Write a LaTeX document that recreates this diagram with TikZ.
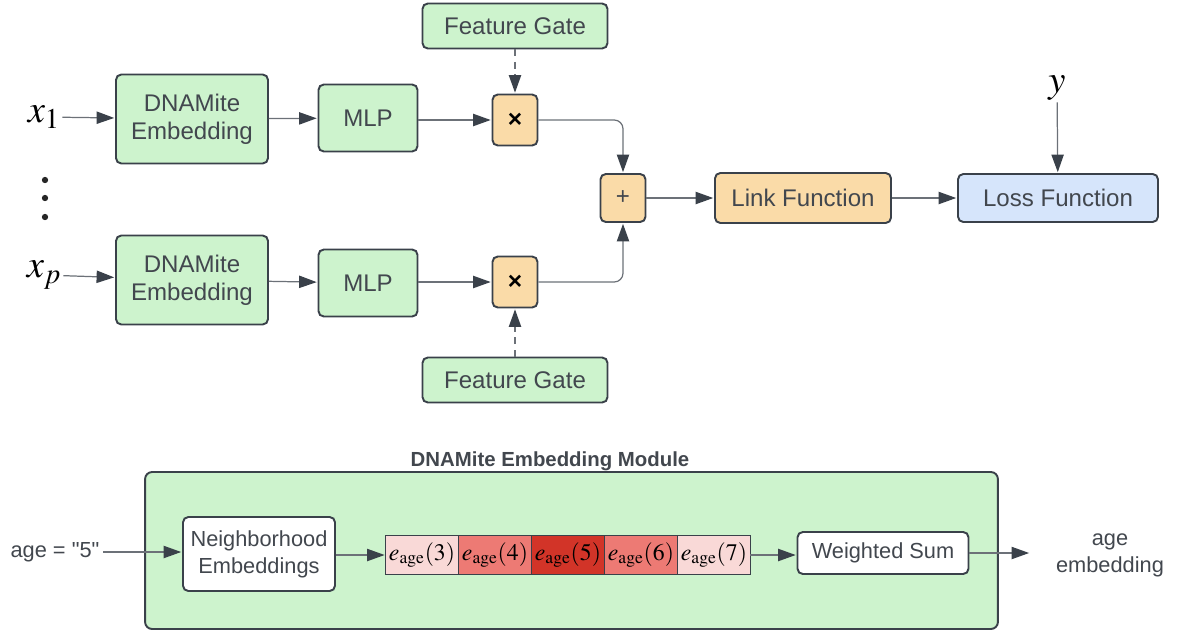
\documentclass[tikz,border=0pt]{standalone}
\usepackage{mathptmx}
\usepackage[no-math]{fontspec}
\setmainfont{Liberation Sans}
\newfontfamily\plainsans{Liberation Sans}
\usetikzlibrary{arrows.meta, positioning}
\definecolor{boxgreen}{RGB}{205, 243, 205}
\definecolor{boxorange}{RGB}{250, 219, 168}
\definecolor{boxblue}{RGB}{214, 229, 251}
\definecolor{edgegray}{RGB}{58, 65, 74}
\definecolor{linegray}{RGB}{108, 113, 120}
\definecolor{txtgray}{RGB}{66, 71, 78}
\definecolor{celllight}{RGB}{249, 217, 215}
\definecolor{cellmid}{RGB}{237, 122, 116}
\definecolor{celldark}{RGB}{210, 52, 40}
\newcommand{\topfont}{\fontsize{13.7}{16}\selectfont}
\newcommand{\lowfont}{\fontsize{12.4}{15.3}\selectfont}
\tikzset{
  blk/.style={draw=edgegray, line width=1.1pt, rounded corners=3pt, align=center, text=txtgray, font=\topfont, inner sep=0pt},
  gblk/.style={blk, fill=boxgreen},
  oblk/.style={blk, fill=boxorange},
  wblk/.style={blk, fill=white, font=\lowfont},
  cellbox/.style={draw=edgegray, line width=0.8pt, minimum width=1.46cm, minimum height=0.78cm, inner sep=0pt, outer sep=0pt, font=\fontsize{13.5}{16}\selectfont},
  conn/.style={draw=linegray, line width=0.7pt, -{Triangle[length=10pt, width=7pt, color=edgegray]}, shorten >=0.5pt},
  gateconn/.style={conn, dash pattern=on 4pt off 3pt}
}

\begin{document}
\begin{tikzpicture}[x=0.02cm, y=-0.02cm]
  \useasboundingbox (0,0) rectangle (1177,633);

  % Inputs
  \node[font=\fontsize{22}{24}\selectfont, inner sep=1pt] (x1) at (44,117) {$x_1$};
  \node[font=\fontsize{22}{24}\selectfont, inner sep=1pt] (xp) at (44,275) {$x_p$};
  \foreach \yy in {180, 198, 217} {
    \fill[black!85] (45,\yy) circle[radius=1.8pt];
  }

  % Feature branches
  \node[gblk, minimum width=3.04cm, minimum height=1.78cm] (emb1) at (192,119) {DNAMite\\Embedding};
  \node[gblk, minimum width=3.04cm, minimum height=1.78cm] (embp) at (192,280) {DNAMite\\Embedding};
  \node[gblk, minimum width=1.98cm, minimum height=1.34cm] (mlp1) at (368,118) {MLP};
  \node[gblk, minimum width=1.98cm, minimum height=1.34cm] (mlpp) at (368,283) {MLP};
  \node[oblk, minimum width=0.9cm, minimum height=1.02cm, text=black, font=\fontsize{14}{16}\selectfont\bfseries] (mul1) at (515,120) {\char"00D7};
  \node[oblk, minimum width=0.9cm, minimum height=1.02cm, text=black, font=\fontsize{14}{16}\selectfont\bfseries] (mulp) at (515,282) {\char"00D7};
  \node[gblk, minimum width=3.7cm, minimum height=0.9cm] (gate1) at (515,26) {Feature Gate};
  \node[gblk, minimum width=3.7cm, minimum height=0.9cm] (gatep) at (515,380) {Feature Gate};

  % Sum, link and loss
  \node[oblk, minimum width=0.9cm, minimum height=0.96cm] (sum) at (623,198) {+};
  \node[oblk, minimum width=3.52cm, minimum height=1.0cm] (link) at (803,198) {Link Function};
  \node[blk, fill=boxblue, minimum width=4.0cm, minimum height=0.96cm] (loss) at (1058,198) {Loss Function};
  \node[font=\fontsize{22}{24}\selectfont, inner sep=1pt] (yv) at (1057,88) {$y$};

  \draw[conn] (x1) -- (emb1);
  \draw[conn] (xp) -- (embp);
  \draw[conn] (emb1) -- (mlp1);
  \draw[conn] (embp) -- (mlpp);
  \draw[conn] (mlp1.east |- mul1) -- (mul1);
  \draw[conn] (mlpp.east |- mulp) -- (mulp);
  \draw[gateconn] (gate1) -- (mul1);
  \draw[gateconn] (gatep) -- (mulp);
  \draw[conn, rounded corners=5pt] (mul1.east) -| (sum.north);
  \draw[conn, rounded corners=5pt] (mulp.east) -| (sum.south);
  \draw[conn] (sum) -- (link);
  \draw[conn] (link) -- (loss);
  \draw[conn] (yv) -- (loss);

  % DNAMite embedding module
  \node[draw=edgegray, line width=1.1pt, fill=boxgreen, rounded corners=4pt, minimum width=17.06cm, minimum height=3.14cm, inner sep=0pt] (module) at (571.5,550.5) {};
  \node[font=\fontsize{11.6}{14}\selectfont\bfseries, text=txtgray] (modtitle) at (550,461) {DNAMite Embedding Module};

  \node[font=\lowfont\plainsans, text=txtgray, inner sep=2pt] (age) at (55,552) {age = "5"};
  \node[wblk, minimum width=3.04cm, minimum height=1.48cm] (nbr) at (259,554) {Neighborhood\\Embeddings};
  \node[cellbox, fill=celllight] (c3) at (422,555) {$e_{\mathrm{age}}(3)$};
  \node[cellbox, fill=cellmid, right=0pt of c3] (c4) {$e_{\mathrm{age}}(4)$};
  \node[cellbox, fill=celldark, right=0pt of c4] (c5) {$e_{\mathrm{age}}(5)$};
  \node[cellbox, fill=cellmid, right=0pt of c5] (c6) {$e_{\mathrm{age}}(6)$};
  \node[cellbox, fill=celllight, right=0pt of c6] (c7) {$e_{\mathrm{age}}(7)$};
  \node[wblk, minimum width=3.42cm, minimum height=0.84cm] (wsum) at (883,553) {Weighted Sum};
  \node[font=\lowfont, text=txtgray, align=center] (ageemb) at (1110,555) {age\\embedding};
  \coordinate (outend) at (1030,553);

  \draw[conn] (age) -- (nbr.west |- age);
  \draw[conn] (nbr.east |- c3) -- (c3);
  \draw[conn] (c7.east) -- (wsum.west |- c7.east);
  \draw[conn] (wsum) -- (outend);
\end{tikzpicture}
\end{document}
